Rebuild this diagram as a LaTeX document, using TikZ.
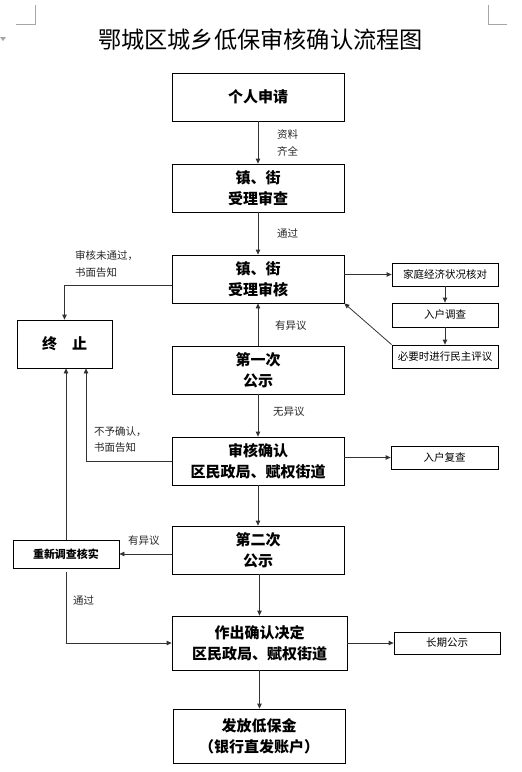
\documentclass[tikz,border=0pt]{standalone}
\usepackage{fontspec}
\newfontfamily\cjk{Noto Sans CJK SC}
\usetikzlibrary{arrows.meta}
\begin{document}
\begin{tikzpicture}[x=1pt,y=-1pt,
  box/.style={draw=black, line width=0.8pt, rectangle, inner sep=0pt, align=center,
    font=\cjk\bfseries\fontsize{15}{21}\selectfont, text=black},
  bigbox/.style={box, minimum width=172pt, minimum height=48pt},
  smallbox/.style={draw=black, line width=0.8pt, rectangle, inner sep=0pt, align=center,
    font=\cjk\fontsize{10.5}{13}\selectfont, text=black, minimum width=106pt, minimum height=23pt},
  lbl/.style={font=\cjk\fontsize{10.5}{13}\selectfont, text=black!85, anchor=west, inner sep=0pt},
  arr/.style={draw=black!80, line width=0.8pt, -{Triangle[length=5pt,width=4.5pt]}},
  cornermark/.style={draw=black!35, line width=0.6pt}
]
\useasboundingbox (0,0) rectangle (522,772);
% page corner marks
\draw[cornermark] (35,5) -- (35,24) -- (16,24);
\draw[cornermark] (488,5) -- (488,24) -- (507,24);
\fill[black!35] (0,37) -- (6,37) -- (3,41) -- cycle;

% title
\node[font=\cjk\fontsize{23.2}{27}\selectfont, text=black, inner sep=0pt] (title) at (260.5,40) {鄂城区城乡低保审核确认流程图};

% main boxes
\node[bigbox] (apply) at (258,97) {个人申请};
\node[bigbox] (check) at (258,188) {镇、街\\受理审查};
\node[bigbox] (review) at (258,279) {镇、街\\受理审核};
\node[bigbox] (pub1) at (258,370) {第一次\\公示};
\node[bigbox] (confirm) at (258,461) {审核确认\\区民政局、赋权街道};
\node[bigbox] (pub2) at (258,550) {第二次\\公示};
\node[box, minimum width=175pt, minimum height=54pt] (decide) at (259.5,643) {作出确认决定\\区民政局、赋权街道};
\node[box, minimum width=172pt, minimum height=54pt] (pay) at (259,736) {发放低保金\\（银行直发账户）};

% left boxes
\node[box, minimum width=95pt, minimum height=48pt] (stop) at (64.5,344) {终\hspace{15pt}止};
\node[box, minimum width=106pt, minimum height=28pt, font=\cjk\bfseries\fontsize{11}{13}\selectfont] (recheck) at (66,554) {重新调查核实};

% right boxes
\node[smallbox] (fam) at (445,274.5) {家庭经济状况核对};
\node[smallbox, minimum height=24pt] (visit) at (445,315) {入户调查};
\node[smallbox] (demo) at (445,356.5) {必要时进行民主评议};
\node[smallbox, minimum width=107pt] (revisit) at (444.5,457.5) {入户复查};
\node[smallbox, minimum height=22pt] (longpub) at (447,643) {长期公示};

% main flow
\draw[arr] (apply.south) -- (check.north);
\draw[arr] (check.south) -- (review.north);
\draw[arr] (pub1.north) -- (review.south);
\draw[arr] (pub1.south) -- (confirm.north);
\draw[arr] (confirm.south) -- (pub2.north);
\draw[arr] ([xshift=1.5pt]pub2.south) -- ([xshift=1.5pt]pub2.south |- decide.north);
\draw[arr] (decide.south) -- (decide.south |- pay.north);

% right side
\draw[arr] (fam.west -| review.east) -- (fam.west);
\draw[arr] (fam.south) -- (visit.north);
\draw[arr] (visit.south) -- (demo.north);
\draw[arr] (demo.north west) -- (review.south east);
\draw[arr] (revisit.west -| confirm.east) -- (revisit.west);
\draw[arr] (decide.east) -- (longpub.west);

% left side
\draw[arr] ([yshift=-6pt]review.west) -| (stop.north);
\draw[arr] (confirm.west) -| ([xshift=21.5pt]stop.south);
\draw[arr] (recheck.north) -- (stop.south -| recheck.north);
\draw[arr] (pub2.west |- recheck.east) -- (recheck.east);
\draw[arr, shorten <=4pt] (recheck.south) |- (decide.west);

% labels
\node[lbl] (l1) at (277,135) {资料};
\node[lbl] (l2) at (277,151) {齐全};
\node[lbl] (l3) at (277,233) {通过};
\node[lbl] (l4) at (75,256) {审核未通过，};
\node[lbl] (l5) at (75,273) {书面告知};
\node[lbl] (l6) at (275,326) {有异议};
\node[lbl] (l7) at (273,412) {无异议};
\node[lbl] (l8) at (94,432) {不予确认，};
\node[lbl] (l9) at (94,448) {书面告知};
\node[lbl] (l10) at (128,541) {有异议};
\node[lbl] (l11) at (73,600) {通过};
\end{tikzpicture}
\end{document}
